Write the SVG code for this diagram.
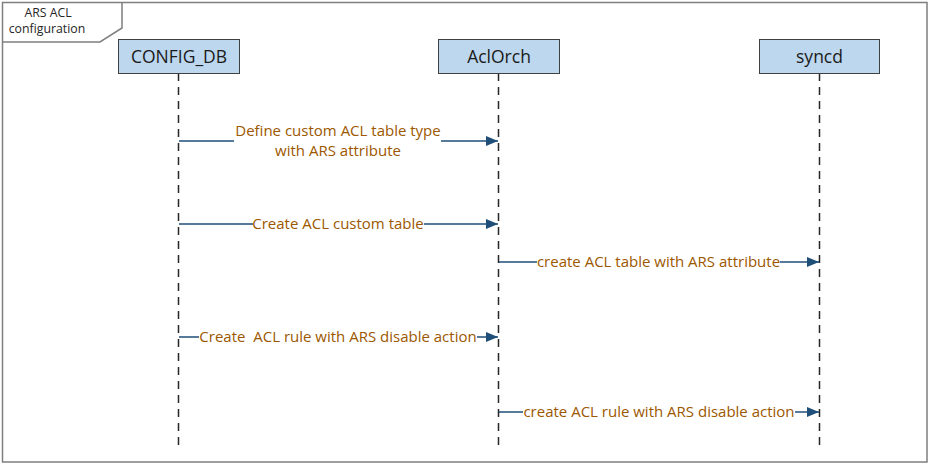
<svg xmlns="http://www.w3.org/2000/svg" width="930" height="464" viewBox="0 0 930 464">
<style>
.frame{fill:none;stroke:#7f7f7f;stroke-width:1.5}
.box{fill:#bdd7ee;stroke:#404040;stroke-width:1}
.boxt{font-family:"Open Sans","Noto Sans",sans-serif;font-size:17.5px;fill:#1a1a1a;text-anchor:middle}
.life{stroke:#262626;stroke-width:1.5;stroke-dasharray:8,6}
.msg{stroke:#1f4e79;stroke-width:1.5;fill:none}
.mt{font-family:"Open Sans","Noto Sans",sans-serif;font-size:15px;fill:#9c5700;text-anchor:middle}
.bg{fill:#ffffff}
.ft{font-family:"Open Sans","Noto Sans",sans-serif;font-size:12.3px;fill:#262626;text-anchor:middle}
</style>
<defs>
<marker id="ah" markerWidth="12" markerHeight="10" refX="12" refY="5" orient="auto" markerUnits="userSpaceOnUse">
<path d="M0,0 L12,5 L0,10 Z" fill="#1f4e79"/>
</marker>
</defs>
<rect x="0" y="0" width="930" height="464" fill="#ffffff"/>
<g id="frame">
<rect class="frame" x="2.5" y="2.5" width="924.5" height="459.5"/>
<path class="frame" d="M2.5,42 L100,42 L122,28 L122,2.5"/>
<text class="ft" x="48" y="17">ARS ACL</text>
<text class="ft" x="47" y="33">configuration</text>
</g>
<g id="lifelines">
<line class="life" x1="178.5" y1="73" x2="178.5" y2="445"/>
<line class="life" x1="498.5" y1="73" x2="498.5" y2="445"/>
<line class="life" x1="819.5" y1="73" x2="819.5" y2="445"/>
</g>
<g id="node-config-db">
<rect class="box" x="118.5" y="39.5" width="121" height="34"/>
<text class="boxt" x="179" y="62.5">CONFIG_DB</text>
</g>
<g id="node-aclorch">
<rect class="box" x="438.5" y="39.5" width="121" height="34"/>
<text class="boxt" x="499" y="62.5">AclOrch</text>
</g>
<g id="node-syncd">
<rect class="box" x="759.5" y="39.5" width="120" height="34"/>
<text class="boxt" x="819.5" y="62.5">syncd</text>
</g>
<g id="connectors">
<line class="msg" x1="179" y1="141" x2="498" y2="141" marker-end="url(#ah)"/>
<rect class="bg" x="234" y="124" width="207" height="36"/>
<text class="mt" x="338" y="136">Define custom ACL table type</text>
<text class="mt" x="338" y="156">with ARS attribute</text>

<line class="msg" x1="179" y1="224" x2="498" y2="224" marker-end="url(#ah)"/>
<rect class="bg" x="253" y="216" width="171" height="16"/>
<text class="mt" x="338" y="229">Create ACL custom table</text>

<line class="msg" x1="499" y1="262" x2="819" y2="262" marker-end="url(#ah)"/>
<rect class="bg" x="537" y="254" width="243" height="16"/>
<text class="mt" x="658.5" y="267">create ACL table with ARS attribute</text>

<line class="msg" x1="179" y1="337" x2="498" y2="337" marker-end="url(#ah)"/>
<rect class="bg" x="199" y="329" width="278" height="16"/>
<text class="mt" x="338" y="342" xml:space="preserve">Create  ACL rule with ARS disable action</text>

<line class="msg" x1="499" y1="412" x2="819" y2="412" marker-end="url(#ah)"/>
<rect class="bg" x="523" y="404" width="272" height="16"/>
<text class="mt" x="659" y="417">create ACL rule with ARS disable action</text>
</g>
</svg>
